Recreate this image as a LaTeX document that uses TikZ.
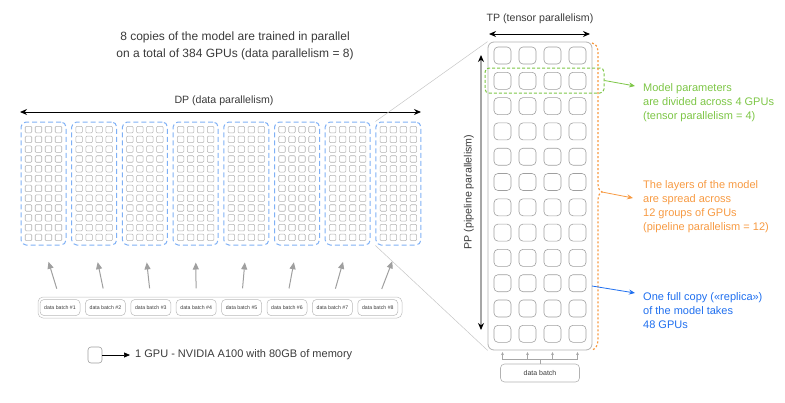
\documentclass[tikz,border=0pt]{standalone}
\usepackage{fontspec}
\setmainfont{Liberation Sans}
\usetikzlibrary{arrows.meta,calc}
\definecolor{dpblue}{HTML}{7FB0F5}
\definecolor{tgreen}{HTML}{7DC646}
\definecolor{torange}{HTML}{F79A42}
\definecolor{tblue}{HTML}{1F6FEF}
\definecolor{txtgray}{HTML}{3A3A3A}
\begin{document}
\begin{tikzpicture}[x=1pt,y=-1pt,
  replica/.style={draw=dpblue, dash pattern=on 5pt off 3pt, line width=1pt, rounded corners=5pt, minimum width=45pt, minimum height=123pt, inner sep=0pt},
  minigpu/.style={draw=gray!60, line width=0.55pt, rounded corners=1pt, minimum size=6.5pt, inner sep=0pt},
  gpu/.style={draw=gray!75, line width=0.6pt, rounded corners=4pt, minimum size=17pt, inner sep=0pt},
  batchbox/.style={draw=gray!50, line width=0.5pt, rounded corners=5pt, inner sep=0pt},
  batch/.style={draw=gray!55, line width=0.5pt, rounded corners=4pt, minimum width=40pt, minimum height=16pt, inner sep=0pt, font=\fontsize{5.2}{6}\selectfont, text=txtgray},
  garr/.style={draw=gray!75, line width=1pt, -{Triangle[length=7pt,width=6pt]}},
  darr/.style={line width=1pt, {Stealth[length=7pt,width=6pt]}-{Stealth[length=7pt,width=6pt]}},
  lbl/.style={text=txtgray, font=\fontsize{10.6}{12}\selectfont},
  note/.style={anchor=west, align=left, inner sep=0pt, font=\fontsize{11}{14}\selectfont},
  carr/.style={line width=0.8pt, -{Stealth[length=6pt,width=5pt]}}
]
\useasboundingbox (0,0) rectangle (785,402);

% title
\node[text=txtgray, align=center, font=\fontsize{12}{17}\selectfont] (title) at (235,45.5) {8 copies of the model are trained in parallel\\on a total of 384 GPUs (data parallelism = 8)};

% DP arrow
\coordinate (dpl) at (20,112);
\coordinate (dpr) at (421,112);
\draw[darr] (dpl) -- (dpr);
\node[lbl] (dp) at (224,101) {DP (data parallelism)};

% replicas
\foreach \i in {1,...,8}{
  \node[replica] (r\i) at ({43.5+(\i-1)*50.7},183.5) {};
  \foreach \c in {1,...,4}{
    \foreach \r in {1,...,12}{
      \node[minigpu] (m\i-\r-\c) at ({43.5+(\i-1)*50.7+(\c-2.5)*10},{183.5+(\r-6.5)*9.8}) {};
    }
  }
}

% data batches
\node[batchbox, minimum width=364pt, minimum height=21pt] (bc) at (220,307.5) {};
\foreach \i in {1,...,8}{
  \node[batch] (b\i) at ({60+(\i-1)*45.4},307.5) {data batch \#\i};
  \draw[garr, shorten <=11pt, shorten >=17pt] (b\i.north) -- (r\i.south);
}

% legend
\node[draw=gray!75, rounded corners=3pt, minimum width=14pt, minimum height=16pt, inner sep=0pt, line width=0.6pt] (leg) at (95,355) {};
\node[anchor=west, text=txtgray, font=\fontsize{11}{12}\selectfont, inner sep=2pt] (legtxt) at (133,355) {1 GPU - NVIDIA A100 with 80GB of memory};
\draw[line width=0.7pt, -{Triangle[length=6pt,width=5pt]}, shorten >=3pt] (leg.east) -- (legtxt.west);

% right: one replica
\node[draw=gray!60, line width=0.8pt, rounded corners=6pt, minimum width=104pt, minimum height=308pt, inner sep=0pt] (big) at (540,196) {};
\foreach \r in {1,...,12}{
  \foreach \c in {1,...,4}{
    \node[gpu] (g\r-\c) at ({502.5+(\c-1)*25},{55.5+(\r-1)*25.3}) {};
  }
}

% zoom lines
\draw[gray!45, line width=0.5pt] (r8.north west) -- (big.north west);
\draw[gray!45, line width=0.5pt] (r8.south west) -- (big.south west);

% TP arrow
\coordinate (tpl) at (489,34);
\coordinate (tpr) at (590,34);
\draw[darr] (tpl) -- (tpr);
\node[lbl] (tp) at (540,19) {TP (tensor parallelism)};

% PP arrow
\coordinate (ppt) at (481,55);
\coordinate (ppb) at (481,330);
\draw[draw=gray!70, line width=1.3pt, {Stealth[length=7pt,width=6pt,black]}-{Stealth[length=7pt,width=6pt,black]}] (ppt) -- (ppb);
\node[lbl, rotate=90] (pp) at (469,192) {PP (pipeline parallelism)};

% green group
\node[draw=tgreen, dash pattern=on 3pt off 2pt, line width=1pt, rounded corners=4pt, minimum width=119pt, minimum height=25pt, inner sep=0pt] (grp) at (544.5,80.5) {};
\coordinate (ge) at (635,86);
\draw[carr, tgreen] (grp.east) -- (ge);
\node[note, text=tgreen] (gtxt) at (643,103) {Model parameters\\are divided across 4 GPUs\\(tensor parallelism = 4)};

% orange brace
\coordinate (ob) at (602,192);
\draw[torange, line width=1.2pt, dash pattern=on 2pt off 2pt] (592,43) .. controls (597,44) and (598,48) .. (598,54) -- (598,184) .. controls (598,189) and (600,191) .. (ob) .. controls (600,193) and (598,195) .. (598,200) -- (598,338) .. controls (598,345) and (596,349) .. (592,350);
\coordinate (oe) at (633,198);
\draw[carr, torange] (ob) -- (oe);
\node[note, text=torange] (otxt) at (643,207) {The layers of the model\\are spread across\\12 groups of GPUs\\(pipeline parallelism = 12)};

% blue note
\coordinate (bs) at (592,286);
\coordinate (be) at (635,293);
\draw[carr, tblue] (bs) -- (be);
\node[note, text=tblue] (btxt) at (643,310.5) {One full copy («replica»)\\of the model takes\\48 GPUs};

% data batch (right)
\node[draw=gray!60, line width=0.6pt, rounded corners=4pt, minimum width=79pt, minimum height=18pt, inner sep=0pt, text=txtgray, font=\fontsize{7}{8}\selectfont] (db) at (540,373) {data batch};
\foreach \c in {1,...,4}{
  \draw[gray!70, line width=0.6pt, -{Stealth[length=3pt,width=3pt]}] (db.north) -- ++(0,-4) -| ($(g12-\c.south)+(0,9.5)$);
}
\end{tikzpicture}
\end{document}
